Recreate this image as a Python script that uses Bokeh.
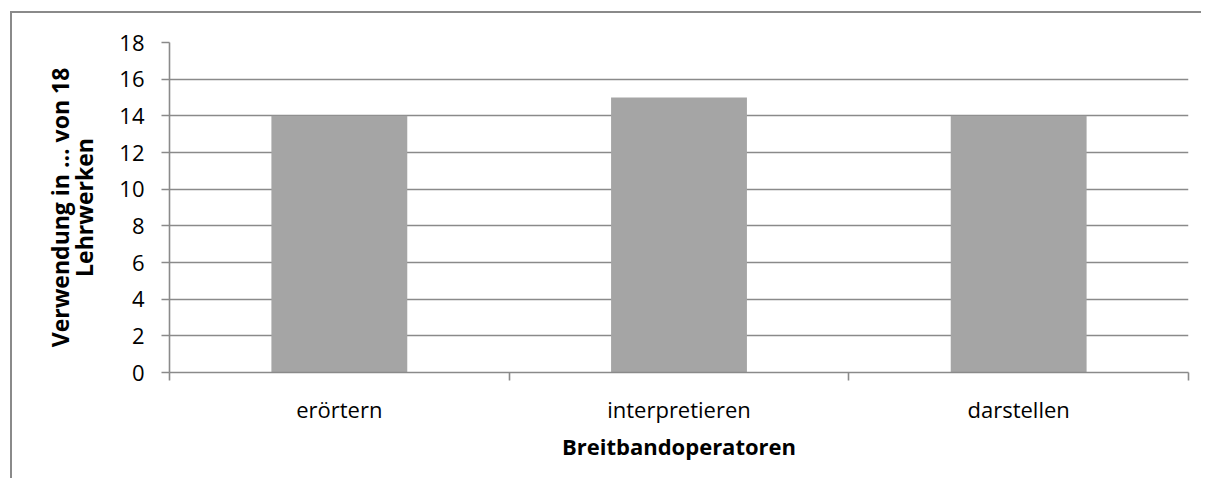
from bokeh.plotting import figure
from bokeh.models import Range1d, LinearAxis, FixedTicker
from bokeh.embed import file_html
from bokeh.resources import INLINE

# ---- data ----
categories = ["erörtern", "interpretieren", "darstellen"]
values = [14, 15, 14]
y_ticks = [0, 2, 4, 6, 8, 10, 12, 14, 16, 18]
x_title = "Breitbandoperatoren"
y_title = "Verwendung in … von 18\nLehrwerken"

GRID = "#8A8A8A"
BAR = "#A5A5A5"
FONT = "Open Sans"
LW = 1.6

n = len(categories)
centers = [i + 0.5 for i in range(n)]
edges = list(range(n + 1))

p = figure(
    width=1191, height=467,
    x_range=Range1d(0, n), y_range=Range1d(0, 18),
    x_axis_location=None, y_axis_location=None,
    output_backend="svg", toolbar_location=None,
    min_border_left=157, min_border_top=29,
    min_border_right=15, min_border_bottom=108,
)
p.styles = {"border-left": "2px solid #8A8A8A", "border-top": "2px solid #8A8A8A"}
p.margin = (11, 0, 0, 10)
p.outline_line_color = None
p.background_fill_color = "white"
p.border_fill_color = "white"

p.vbar(x=centers, top=values, width=0.4, fill_color=BAR, line_color=None)

# y axis
yax = LinearAxis(ticker=FixedTicker(ticks=y_ticks))
yax.axis_line_color = GRID
yax.axis_line_width = LW
yax.major_tick_line_color = GRID
yax.major_tick_line_width = LW
yax.major_tick_out = 8
yax.major_tick_in = 0
yax.minor_tick_line_color = None
yax.major_label_text_font = FONT
yax.major_label_text_font_size = "22px"
yax.major_label_text_color = "black"
yax.major_label_standoff = 17
yax.axis_label = y_title
yax.axis_label_text_font = FONT
yax.axis_label_text_font_style = "bold"
yax.axis_label_text_font_size = "23px"
yax.axis_label_text_color = "black"
yax.axis_label_text_line_height = 0.77
yax.axis_label_standoff = 16
p.add_layout(yax, "left")

# x axis: labels at centres, tick marks at category edges
xax = LinearAxis(ticker=FixedTicker(ticks=centers, minor_ticks=edges))
xax.major_label_overrides = {c: lab for c, lab in zip(centers, categories)}
xax.axis_line_color = GRID
xax.axis_line_width = LW
xax.major_tick_line_color = None
xax.minor_tick_line_color = GRID
xax.minor_tick_line_width = LW
xax.minor_tick_out = 8
xax.minor_tick_in = 0
xax.major_label_text_font = FONT
xax.major_label_text_font_size = "22px"
xax.major_label_text_color = "black"
xax.major_label_standoff = 13
xax.axis_label = x_title
xax.axis_label_text_font = FONT
xax.axis_label_text_font_style = "bold"
xax.axis_label_text_font_size = "22px"
xax.axis_label_text_color = "black"
xax.axis_label_standoff = 4
p.add_layout(xax, "below")

p.xgrid.visible = False
p.ygrid.grid_line_color = GRID
p.ygrid.grid_line_width = LW
p.ygrid.ticker = FixedTicker(ticks=y_ticks)

open("out.html", "w").write(file_html(p, INLINE))
